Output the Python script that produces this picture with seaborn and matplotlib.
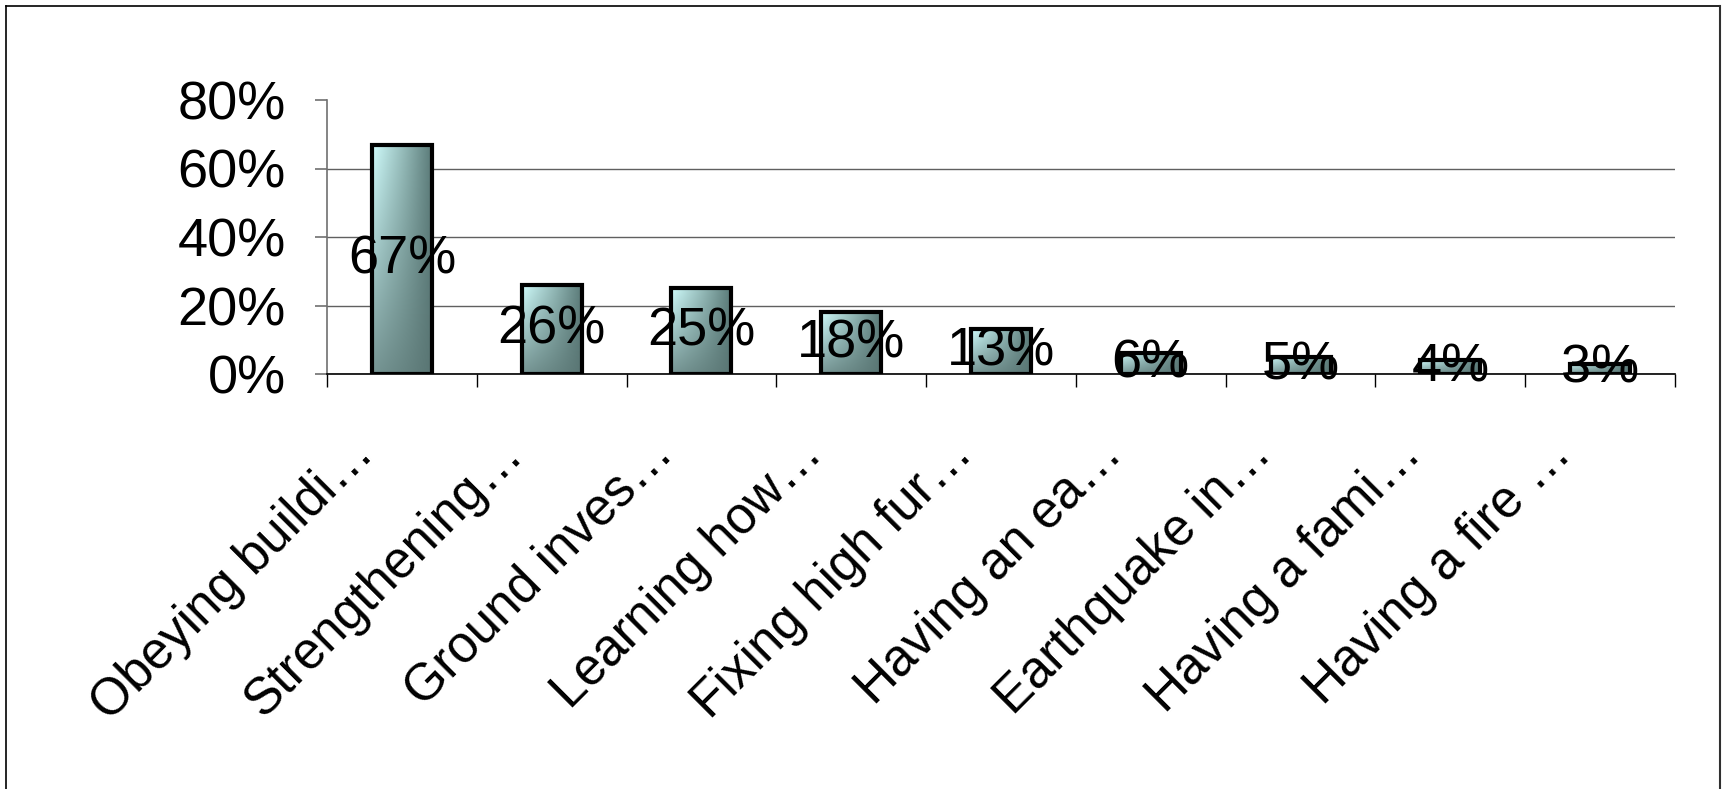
import numpy as np
import pandas as pd
import matplotlib
matplotlib.use("Agg")
import matplotlib.pyplot as plt
import matplotlib.transforms as mtransforms
from matplotlib.lines import Line2D
from matplotlib.colors import to_rgb
import seaborn as sns

categories = ["Obeying buildi…", "Strengthening…", "Ground inves…", "Learning how…",
              "Fixing high fur…", "Having an ea…", "Earthquake in…", "Having a fami…",
              "Having a fire …"]
values = [0.67, 0.26, 0.25, 0.18, 0.13, 0.06, 0.05, 0.04, 0.03]
value_labels = ["67%", "26%", "25%", "18%", "13%", "6%", "5%", "4%", "3%"]
ytick_values = [0.0, 0.2, 0.4, 0.6, 0.8]
ytick_labels = ["0%", "20%", "40%", "60%", "80%"]

plt.rcParams["font.family"] = ["Liberation Sans", "DejaVu Sans"]

FS = 39
FSX = 37
W, H, DPI = 1724, 789, 100
fig = plt.figure(figsize=(W / DPI, H / DPI), dpi=DPI)
ax = fig.add_axes([327 / W, 1 - 374 / H, (1675 - 327) / W, (374 - 100) / H])

df = pd.DataFrame({"cat": categories, "val": values})
sns.barplot(data=df, x="cat", y="val", ax=ax, width=0.40, color="#7a9a98",
            edgecolor="black", linewidth=3.0, zorder=3)

ax.set_xlim(-0.5, len(categories) - 0.5)
ax.set_ylim(0, 0.8)
ax.set_xlabel("")
ax.set_ylabel("")

# gradient fill for bars
n = 64
xs = np.linspace(0, 1, n)
ys = np.linspace(0, 1, n)
c_left = np.array(to_rgb("#d0fcfc"))
c_mid = np.array(to_rgb("#92b8b6"))
c_right = np.array(to_rgb("#5c7c7a"))
c_bottom = np.array(to_rgb("#587371"))
hrow = np.zeros((n, 3))
for i, t in enumerate(xs):
    if t < 0.55:
        u = t / 0.55
        hrow[i] = c_left * (1 - u) + c_mid * u
    else:
        u = (t - 0.55) / 0.45
        hrow[i] = c_mid * (1 - u) + c_right * u
grad = np.zeros((n, n, 3))
for j, s in enumerate(ys):
    w = 0.75 * s
    grad[j] = hrow * (1 - w) + c_bottom * w

for p in ax.patches:
    x0, y0 = p.get_x(), p.get_y()
    w_, h_ = p.get_width(), p.get_height()
    p.set_facecolor("none")
    im = ax.imshow(grad, extent=[x0, x0 + w_, y0, y0 + h_], origin="upper",
                   aspect="auto", zorder=2.9, interpolation="bilinear")
    im.set_clip_path(p)

ax.set_xlim(-0.5, len(categories) - 0.5)
ax.set_ylim(0, 0.8)

# data labels
for i, (v, lab) in enumerate(zip(values, value_labels)):
    ax.text(i, v / 2, lab, ha="center", va="center", fontsize=FS, color="black", zorder=5)

# y axis
ax.set_yticks(ytick_values)
ax.set_yticklabels(ytick_labels, fontsize=FS)
ax.tick_params(axis="y", direction="out", length=8.6, width=1.2, color="#707070", pad=21)
ax.yaxis.grid(True, color="#606060", linewidth=1)
ax.set_axisbelow(True)
gl = ax.get_ygridlines()
gl[-1].set_visible(False)

# x axis
ax.set_xticks(range(len(categories)))
ax.set_xticklabels(categories, fontsize=FSX, rotation=45, ha="right",
                   rotation_mode="anchor", va="center")
ax.set_xticks(np.arange(-0.5, len(categories), 1.0), minor=True)
ax.tick_params(axis="x", which="major", length=0, pad=52)
ax.tick_params(axis="x", which="minor", length=9.4, width=1, color="black", direction="out")
offset = mtransforms.ScaledTranslation(-36 / DPI, 0, fig.dpi_scale_trans)
for lbl in ax.get_xticklabels():
    lbl.set_transform(lbl.get_transform() + offset)

for s in ["top", "right"]:
    ax.spines[s].set_visible(False)
ax.spines["left"].set_color("#707070")
ax.spines["left"].set_linewidth(1.2)
ax.spines["bottom"].set_color("black")
ax.spines["bottom"].set_linewidth(1.2)
ax.spines["bottom"].set_zorder(4)

# outer frame (left, top, right)
fx0, fx1, fy1 = 6 / W, 1720 / W, 1 - 6 / H
fig.add_artist(Line2D([fx0, fx0], [0, fy1], color="black", lw=1.2, transform=fig.transFigure))
fig.add_artist(Line2D([fx0, fx1], [fy1, fy1], color="black", lw=1.2, transform=fig.transFigure))
fig.add_artist(Line2D([fx1, fx1], [0, fy1], color="#303030", lw=1.5, transform=fig.transFigure))

fig.savefig("out.png", dpi=DPI)
